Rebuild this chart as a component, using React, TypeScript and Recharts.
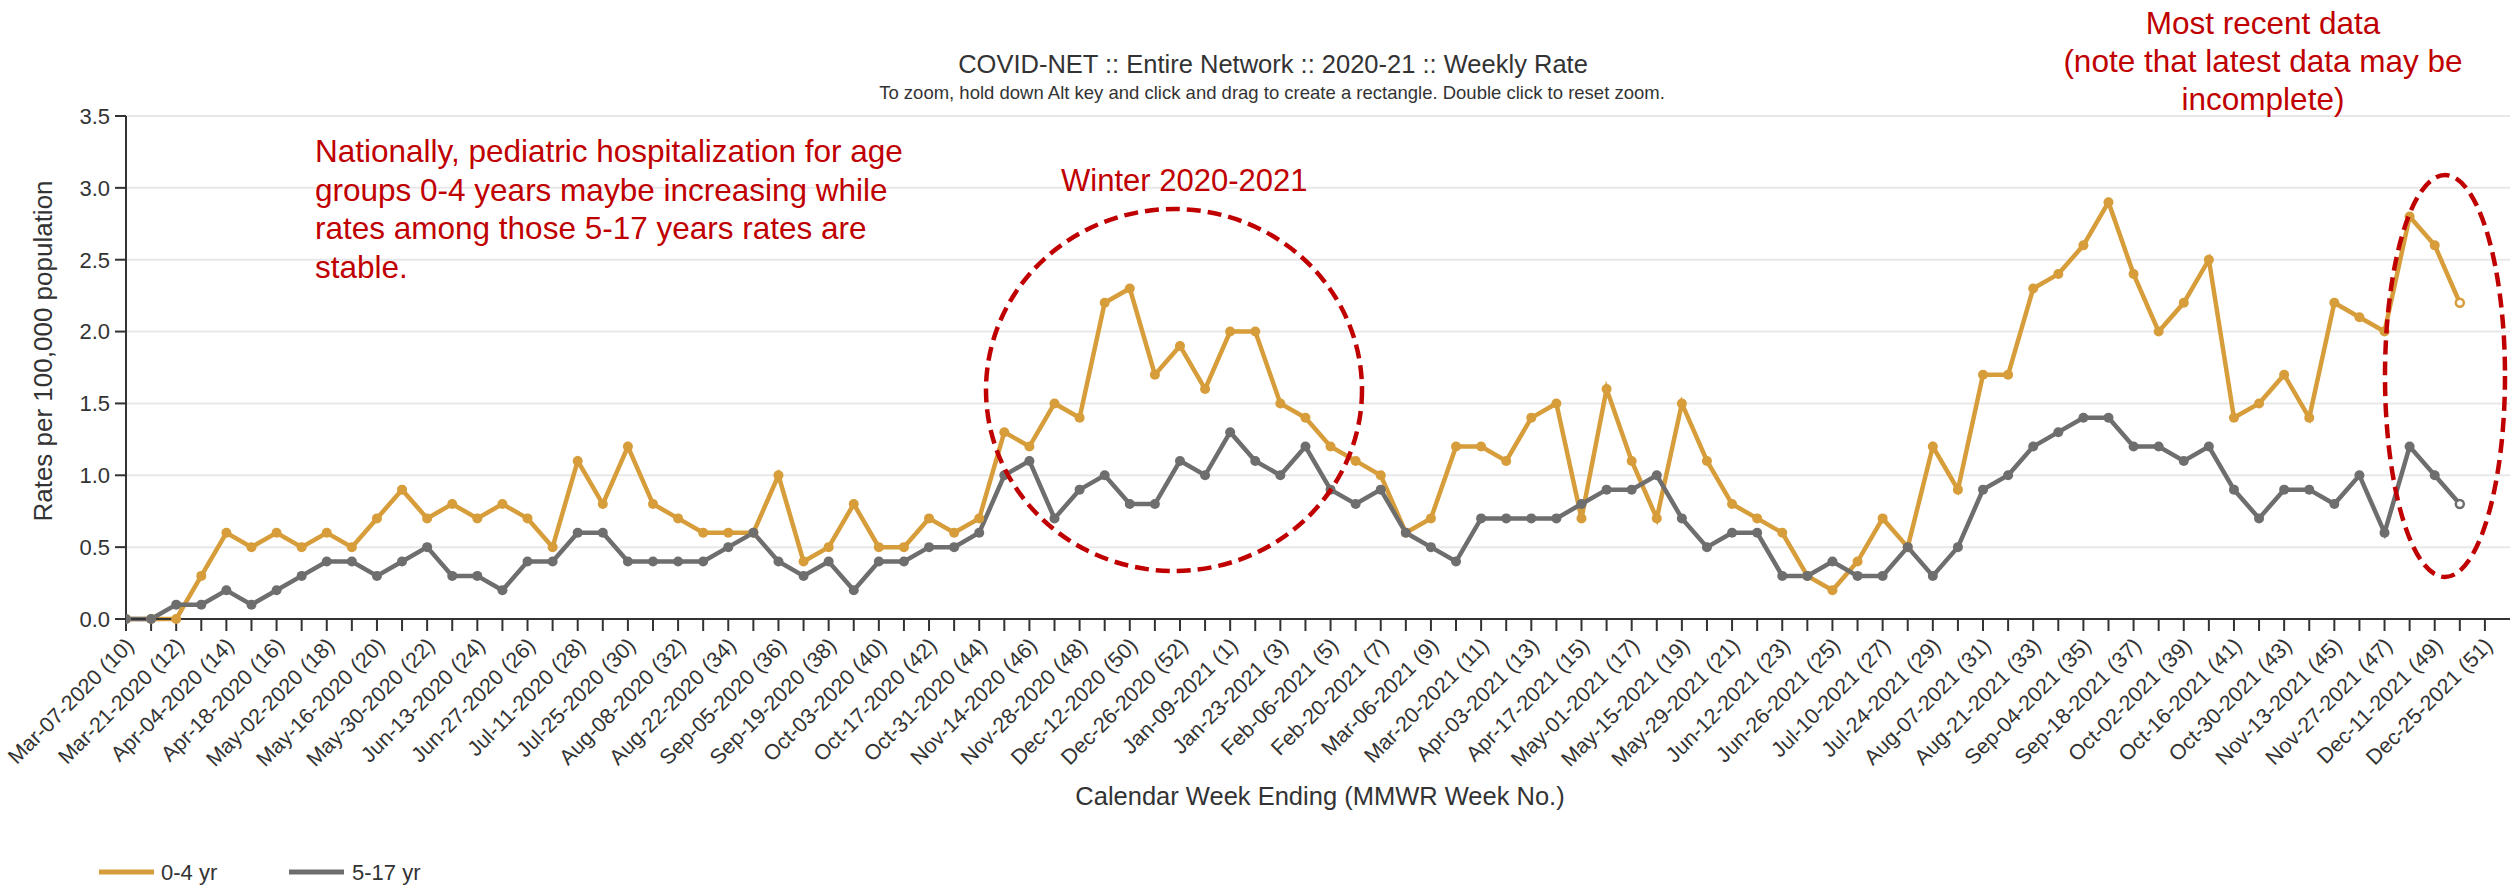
import React from 'react';
import { LineChart, Line, XAxis, YAxis, CartesianGrid } from 'recharts';

const weekLabels: string[] = [
  'Mar-07-2020 (10)', 'Mar-14-2020 (11)', 'Mar-21-2020 (12)', 'Mar-28-2020 (13)', 'Apr-04-2020 (14)', 'Apr-11-2020 (15)',
  'Apr-18-2020 (16)', 'Apr-25-2020 (17)', 'May-02-2020 (18)', 'May-09-2020 (19)', 'May-16-2020 (20)', 'May-23-2020 (21)',
  'May-30-2020 (22)', 'Jun-06-2020 (23)', 'Jun-13-2020 (24)', 'Jun-20-2020 (25)', 'Jun-27-2020 (26)', 'Jul-04-2020 (27)',
  'Jul-11-2020 (28)', 'Jul-18-2020 (29)', 'Jul-25-2020 (30)', 'Aug-01-2020 (31)', 'Aug-08-2020 (32)', 'Aug-15-2020 (33)',
  'Aug-22-2020 (34)', 'Aug-29-2020 (35)', 'Sep-05-2020 (36)', 'Sep-12-2020 (37)', 'Sep-19-2020 (38)', 'Sep-26-2020 (39)',
  'Oct-03-2020 (40)', 'Oct-10-2020 (41)', 'Oct-17-2020 (42)', 'Oct-24-2020 (43)', 'Oct-31-2020 (44)', 'Nov-07-2020 (45)',
  'Nov-14-2020 (46)', 'Nov-21-2020 (47)', 'Nov-28-2020 (48)', 'Dec-05-2020 (49)', 'Dec-12-2020 (50)', 'Dec-19-2020 (51)',
  'Dec-26-2020 (52)', 'Jan-02-2021 (53)',
  'Jan-09-2021 (1)', 'Jan-16-2021 (2)', 'Jan-23-2021 (3)', 'Jan-30-2021 (4)', 'Feb-06-2021 (5)', 'Feb-13-2021 (6)',
  'Feb-20-2021 (7)', 'Feb-27-2021 (8)', 'Mar-06-2021 (9)', 'Mar-13-2021 (10)', 'Mar-20-2021 (11)', 'Mar-27-2021 (12)',
  'Apr-03-2021 (13)', 'Apr-10-2021 (14)', 'Apr-17-2021 (15)', 'Apr-24-2021 (16)', 'May-01-2021 (17)', 'May-08-2021 (18)',
  'May-15-2021 (19)', 'May-22-2021 (20)', 'May-29-2021 (21)', 'Jun-05-2021 (22)', 'Jun-12-2021 (23)', 'Jun-19-2021 (24)',
  'Jun-26-2021 (25)', 'Jul-03-2021 (26)', 'Jul-10-2021 (27)', 'Jul-17-2021 (28)', 'Jul-24-2021 (29)', 'Jul-31-2021 (30)',
  'Aug-07-2021 (31)', 'Aug-14-2021 (32)', 'Aug-21-2021 (33)', 'Aug-28-2021 (34)', 'Sep-04-2021 (35)', 'Sep-11-2021 (36)',
  'Sep-18-2021 (37)', 'Sep-25-2021 (38)', 'Oct-02-2021 (39)', 'Oct-09-2021 (40)', 'Oct-16-2021 (41)', 'Oct-23-2021 (42)',
  'Oct-30-2021 (43)', 'Nov-06-2021 (44)', 'Nov-13-2021 (45)', 'Nov-20-2021 (46)', 'Nov-27-2021 (47)', 'Dec-04-2021 (48)',
  'Dec-11-2021 (49)', 'Dec-18-2021 (50)', 'Dec-25-2021 (51)',
];

const rate0to4: (number | null)[] = [
  0, 0, 0, 0.3, 0.6, 0.5, 0.6, 0.5, 0.6, 0.5, 0.7, 0.9,
  0.7, 0.8, 0.7, 0.8, 0.7, 0.5, 1.1, 0.8, 1.2, 0.8, 0.7, 0.6,
  0.6, 0.6, 1.0, 0.4, 0.5, 0.8, 0.5, 0.5, 0.7, 0.6, 0.7, 1.3,
  1.2, 1.5, 1.4, 2.2, 2.3, 1.7, 1.9, 1.6, 2.0, 2.0, 1.5, 1.4,
  1.2, 1.1, 1.0, 0.6, 0.7, 1.2, 1.2, 1.1, 1.4, 1.5, 0.7, 1.6,
  1.1, 0.7, 1.5, 1.1, 0.8, 0.7, 0.6, 0.3, 0.2, 0.4, 0.7, 0.5,
  1.2, 0.9, 1.7, 1.7, 2.3, 2.4, 2.6, 2.9, 2.4, 2.0, 2.2, 2.5,
  1.4, 1.5, 1.7, 1.4, 2.2, 2.1, 2.0, 2.8, 2.6, 2.2, null,
];

const rate5to17: (number | null)[] = [
  0, 0, 0.1, 0.1, 0.2, 0.1, 0.2, 0.3, 0.4, 0.4, 0.3, 0.4,
  0.5, 0.3, 0.3, 0.2, 0.4, 0.4, 0.6, 0.6, 0.4, 0.4, 0.4, 0.4,
  0.5, 0.6, 0.4, 0.3, 0.4, 0.2, 0.4, 0.4, 0.5, 0.5, 0.6, 1.0,
  1.1, 0.7, 0.9, 1.0, 0.8, 0.8, 1.1, 1.0, 1.3, 1.1, 1.0, 1.2,
  0.9, 0.8, 0.9, 0.6, 0.5, 0.4, 0.7, 0.7, 0.7, 0.7, 0.8, 0.9,
  0.9, 1.0, 0.7, 0.5, 0.6, 0.6, 0.3, 0.3, 0.4, 0.3, 0.3, 0.5,
  0.3, 0.5, 0.9, 1.0, 1.2, 1.3, 1.4, 1.4, 1.2, 1.2, 1.1, 1.2,
  0.9, 0.7, 0.9, 0.9, 0.8, 1.0, 0.6, 1.2, 1.0, 0.8, null,
];

const yTicks = [0, 0.5, 1.0, 1.5, 2.0, 2.5, 3.0, 3.5];
const seriesNames = ['0-4 yr', '5-17 yr'];
const seriesColors = ['#D69D3A', '#6E6E6E'];

const chartTitle = 'COVID-NET :: Entire Network :: 2020-21 :: Weekly Rate';
const chartSubtitle = 'To zoom, hold down Alt key and click and drag to create a rectangle. Double click to reset zoom.';
const yAxisTitle = 'Rates per 100,000 population';
const xAxisTitle = 'Calendar Week Ending (MMWR Week No.)';
const noteNational = [
  'Nationally, pediatric hospitalization for age',
  'groups 0-4 years maybe increasing while',
  'rates among those 5-17 years rates are',
  'stable.',
];
const noteWinter = 'Winter 2020-2021';
const noteRecent = ['Most recent data', '(note that latest data may be', 'incomplete)'];

const data = weekLabels.map((label, i) => ({
  idx: i,
  label,
  young: rate0to4[i],
  older: rate5to17[i],
}));
const xTicks = weekLabels.map((_, i) => i);
const lastIdx = rate0to4.reduce<number>((acc, v, i) => (v != null ? i : acc), 0);

const FONT = '"Liberation Sans", Arial, Helvetica, sans-serif';
const RED = '#C00000';
const W = 2510;
const H = 886;

const XTick = (props: any) => {
  const { x, y, payload } = props;
  const i = payload.value as number;
  if (i % 2 !== 0) return <g />;
  const ax = x + 9;
  const ay = y + 14;
  return (
    <text
      x={ax}
      y={ay}
      transform={`rotate(-45 ${ax} ${ay})`}
      textAnchor="end"
      fontSize={21.5}
      fill="#333333"
      fontFamily={FONT}
    >
      {weekLabels[i]}
    </text>
  );
};

const makeDot = (color: string) => (props: any) => {
  const { cx, cy, index, value } = props;
  if (cx == null || cy == null || value == null || Number.isNaN(cy)) return <g key={`e-${index}`} />;
  if (index === lastIdx) {
    return <circle key={`d-${index}`} cx={cx} cy={cy} r={4} fill="#ffffff" stroke={color} strokeWidth={2.5} />;
  }
  return <circle key={`d-${index}`} cx={cx} cy={cy} r={5} fill={color} stroke="none" />;
};

export default function App() {
  return (
    <div style={{ position: 'absolute', left: 0, top: 0, width: W, height: H, background: '#ffffff', fontFamily: FONT }}>
      <LineChart
        width={W}
        height={H}
        data={data}
        margin={{ top: 116, right: 0, bottom: 117, left: 0 }}
        style={{ fontFamily: FONT }}
      >
        <CartesianGrid vertical={false} stroke="#e8e8e8" strokeWidth={2} />
        <XAxis
          dataKey="idx"
          type="number"
          domain={[0, 95]}
          ticks={xTicks}
          interval={0}
          height={150}
          tickSize={12}
          tickMargin={2}
          axisLine={{ stroke: '#333333', strokeWidth: 2 }}
          tickLine={{ stroke: '#333333', strokeWidth: 2 }}
          tick={<XTick />}
          allowDataOverflow
        />
        <YAxis
          type="number"
          domain={[0, 3.5]}
          ticks={yTicks}
          interval={0}
          width={126}
          tickSize={11}
          tickMargin={5}
          axisLine={{ stroke: '#333333', strokeWidth: 2 }}
          tickLine={{ stroke: '#333333', strokeWidth: 2 }}
          tick={{ fontSize: 22, fill: '#333333', fontFamily: FONT }}
          tickFormatter={(v: number) => v.toFixed(1)}
        />
        <Line
          type="linear"
          dataKey="young"
          name={seriesNames[0]}
          stroke={seriesColors[0]}
          strokeWidth={4.5}
          dot={makeDot(seriesColors[0])}
          activeDot={false}
          isAnimationActive={false}
          connectNulls={false}
        />
        <Line
          type="linear"
          dataKey="older"
          name={seriesNames[1]}
          stroke={seriesColors[1]}
          strokeWidth={4.5}
          dot={makeDot(seriesColors[1])}
          activeDot={false}
          isAnimationActive={false}
          connectNulls={false}
        />
      </LineChart>
      <svg
        width={W}
        height={H}
        style={{ position: 'absolute', left: 0, top: 0, pointerEvents: 'none' }}
        fontFamily={FONT}
      >
        <text x={1273} y={64} textAnchor="middle" dominantBaseline="central" fontSize={25.5} fill="#333333">
          {chartTitle}
        </text>
        <text x={1272} y={92} textAnchor="middle" dominantBaseline="central" fontSize={18.5} fill="#333333">
          {chartSubtitle}
        </text>
        <text
          x={43}
          y={351}
          transform="rotate(-90 43 351)"
          textAnchor="middle"
          dominantBaseline="central"
          fontSize={26}
          fill="#333333"
        >
          {yAxisTitle}
        </text>
        <text x={1320} y={796} textAnchor="middle" dominantBaseline="central" fontSize={25.5} fill="#333333">
          {xAxisTitle}
        </text>
        {/* legend */}
        <line x1={99} y1={872} x2={154} y2={872} stroke={seriesColors[0]} strokeWidth={5} />
        <text x={161} y={872} dominantBaseline="central" fontSize={22} fill="#333333">
          {seriesNames[0]}
        </text>
        <line x1={289} y1={872} x2={344} y2={872} stroke={seriesColors[1]} strokeWidth={5} />
        <text x={352} y={872} dominantBaseline="central" fontSize={22} fill="#333333">
          {seriesNames[1]}
        </text>
        {/* annotations */}
        {noteNational.map((line, k) => (
          <text key={`n-${k}`} x={315} y={162 + k * 38.5} fontSize={31.5} fill={RED}>
            {line}
          </text>
        ))}
        <text x={1061} y={191} fontSize={31} fill={RED}>
          {noteWinter}
        </text>
        {noteRecent.map((line, k) => (
          <text key={`r-${k}`} x={2263} y={34 + k * 38} textAnchor="middle" fontSize={31.5} fill={RED}>
            {line}
          </text>
        ))}
        <ellipse cx={1174} cy={390} rx={188} ry={181} fill="none" stroke={RED} strokeWidth={4.5} strokeDasharray="14 7" />
        <ellipse cx={2445} cy={376} rx={60} ry={201} fill="none" stroke={RED} strokeWidth={4.5} strokeDasharray="14 7" />
      </svg>
    </div>
  );
}
